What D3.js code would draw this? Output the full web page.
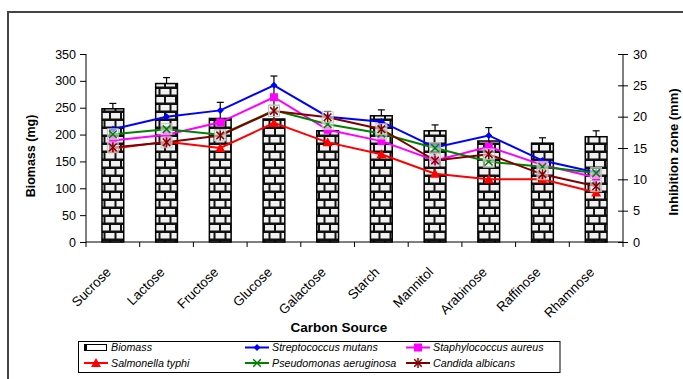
<!DOCTYPE html>
<html><head><meta charset="utf-8">
<script src="https://cdn.jsdelivr.net/npm/d3@7/dist/d3.min.js"></script>
<style>
html,body{margin:0;padding:0;background:#fff;}
svg{display:block;font-family:"Liberation Sans",Arial,sans-serif;}
svg text{font-family:"Liberation Sans",Arial,sans-serif;}
</style></head>
<body>
<svg id="chart" width="683" height="379"></svg>
<script>
const categories = ["Sucrose","Lactose","Fructose","Glucose","Galactose","Starch","Mannitol","Arabinose","Raffinose","Rhamnose"];
const biomass    = [248, 295, 230, 229, 207, 235, 207, 188, 184, 196];
const biomassErr = [10, 11, 30, 80, 36, 11, 11, 25, 10, 11];
const strepMutans   = [18.0, 20.0, 21.0, 25.0, 20.0, 19.2, 15.1, 17.0, 13.0, 11.1];
const staphAureus   = [16.2, 17.1, 19.1, 23.1, 17.9, 16.1, 13.0, 15.2, 12.3, 10.3];
const salmonella    = [14.9, 16.0, 15.0, 19.0, 15.9, 14.0, 10.9, 10.0, 10.0, 7.9];
const pseudomonas   = [17.2, 18.0, 17.1, 21.0, 18.8, 17.3, 15.0, 12.8, 12.0, 11.0];
const candida       = [15.1, 15.9, 17.0, 20.9, 19.9, 18.0, 13.0, 14.0, 10.8, 8.9];
const leftTicks  = [0,50,100,150,200,250,300,350];
const rightTicks = [0,5,10,15,20,25,30];

const series = [
  {name:"Streptococcus mutans", values:strepMutans, color:"#0000ff", marker:"diamond"},
  {name:"Staphylococcus aureus", values:staphAureus, color:"#ff00ff", marker:"square"},
  {name:"Salmonella typhi", values:salmonella, color:"#ff0000", marker:"triangle"},
  {name:"Pseudomonas aeruginosa", values:pseudomonas, color:"#008000", marker:"x"},
  {name:"Candida albicans", values:candida, color:"#800000", marker:"asterisk"}
];

const FONT = "'Liberation Sans', Arial, sans-serif";
const svg = d3.select("#chart");
const L = 86, R = 623, T = 54, B = 242;

// outer frame
svg.append("rect").attr("x",8).attr("y",12).attr("width",720).attr("height",420)
  .attr("fill","none").attr("stroke","#444").attr("stroke-width",2);

// brick pattern
const defs = svg.append("defs");
const pat = defs.append("pattern").attr("id","brick").attr("patternUnits","userSpaceOnUse")
  .attr("width",11).attr("height",16);
pat.append("rect").attr("width",11).attr("height",16).attr("fill","#111");
pat.append("rect").attr("x",1).attr("y",1).attr("width",9).attr("height",5.5).attr("fill","#f0f0f0");
pat.append("rect").attr("x",-4.5).attr("y",9).attr("width",9).attr("height",5.5).attr("fill","#f0f0f0");
pat.append("rect").attr("x",6.5).attr("y",9).attr("width",9).attr("height",5.5).attr("fill","#f0f0f0");

const x = d3.scaleBand().domain(categories).range([L,R]).paddingInner(0).paddingOuter(0);
const yL = d3.scaleLinear().domain([0,350]).range([B,T]);
const yR = d3.scaleLinear().domain([0,30]).range([B,T]);
const cx = c => x(c) + x.bandwidth()/2;
const bw = x.bandwidth()*0.405;

// bars
svg.append("g").selectAll("rect").data(categories).join("rect")
  .attr("x",c=>cx(c)-bw/2).attr("y",(c,i)=>yL(biomass[i]))
  .attr("width",bw).attr("height",(c,i)=>B-yL(biomass[i]))
  .attr("fill","url(#brick)").attr("stroke","#000").attr("stroke-width",1.5);

// bar error bars
const eg = svg.append("g").attr("stroke","#000").attr("stroke-width",1.2);
categories.forEach((c,i)=>{
  const y0 = yL(biomass[i]), y1 = yL(biomass[i]+biomassErr[i]);
  eg.append("line").attr("x1",cx(c)).attr("x2",cx(c)).attr("y1",y0).attr("y2",y1);
  eg.append("line").attr("x1",cx(c)-3.5).attr("x2",cx(c)+3.5).attr("y1",y1).attr("y2",y1);
});

// axes
const gl = svg.append("g").attr("transform",`translate(${L},0)`)
  .call(d3.axisLeft(yL).tickValues(leftTicks).tickSize(6).tickPadding(4));
gl.selectAll("text").attr("font-size","12.5px").attr("fill","#000").attr("font-family",FONT);
gl.select(".domain").attr("d",`M0,${T}V${B}`);

const gr = svg.append("g").attr("transform",`translate(${R},0)`)
  .call(d3.axisRight(yR).tickValues(rightTicks).tickSize(5).tickPadding(5));
gr.selectAll(".tick line").attr("x1",-5);
gr.selectAll("text").attr("font-size","12.8px").attr("fill","#000").attr("font-family",FONT);
gr.select(".domain").attr("d",`M0,${T}V${B}`);

// x axis
const gx = svg.append("g");
gx.append("line").attr("x1",L).attr("x2",R).attr("y1",B).attr("y2",B).attr("stroke","#000");
const bounds = categories.map(c=>x(c)).concat([R]);
gx.selectAll("line.t").data(bounds).join("line").attr("class","t")
  .attr("x1",d=>d).attr("x2",d=>d).attr("y1",B).attr("y2",B+5).attr("stroke","#000");
gx.selectAll("text").data(categories).join("text")
  .attr("transform",c=>`translate(${cx(c)-1},273) rotate(-45)`)
  .attr("text-anchor","end").attr("font-size","13.3px").attr("fill","#000").attr("font-family",FONT).text(c=>c);

// titles
svg.append("text").attr("x",339).attr("y",332).attr("text-anchor","middle").attr("font-family",FONT)
  .attr("font-size","13.5px").attr("font-weight","bold").text("Carbon Source");
svg.append("text").attr("transform","translate(35,156) rotate(-90)").attr("text-anchor","middle").attr("font-family",FONT)
  .attr("font-size","12.5px").attr("font-weight","bold").text("Biomass (mg)");
svg.append("text").attr("transform","translate(678,152) rotate(-90)").attr("text-anchor","middle").attr("font-family",FONT)
  .attr("font-size","13px").attr("font-weight","bold").text("Inhibition zone (mm)");

// markers
function drawMarker(g, type, color, px, py, legend){
  if(type==="diamond"){
    g.append("path").attr("d",`M${px},${py-3.5}L${px+3.5},${py}L${px},${py+3.5}L${px-3.5},${py}Z`).attr("fill",color);
  } else if(type==="square"){
    g.append("rect").attr("x",px-4).attr("y",py-4).attr("width",8).attr("height",8).attr("fill",color);
  } else if(type==="triangle"){
    g.append("path").attr("d",`M${px},${py-5}L${px+5},${py+4}L${px-5},${py+4}Z`).attr("fill",color);
  } else {
    if(!legend){
      g.append("rect").attr("x",px-5.5).attr("y",py-5.5).attr("width",11).attr("height",11)
        .attr("fill","#fff").attr("fill-opacity",0.55).attr("stroke","#bbb").attr("stroke-width",0.8);
    }
    const s = 3.8;
    g.append("path").attr("d",`M${px-s},${py-s}L${px+s},${py+s}M${px-s},${py+s}L${px+s},${py-s}`)
      .attr("stroke",color).attr("stroke-width",1.5).attr("fill","none");
    if(type==="asterisk"){
      g.append("path").attr("d",`M${px},${py-5}V${py+5}`).attr("stroke",color).attr("stroke-width",1.5);
    }
  }
}

// lines
series.forEach(s=>{
  const g = svg.append("g");
  const line = d3.line().x((d,i)=>cx(categories[i])).y(d=>yR(d));
  g.append("path").attr("d",line(s.values)).attr("fill","none").attr("stroke",s.color).attr("stroke-width",2);
  s.values.forEach((v,i)=>drawMarker(g, s.marker, s.color, cx(categories[i]), yR(v), false));
});

// legend
const lg = svg.append("g");
lg.append("rect").attr("x",78.5).attr("y",341.5).attr("width",481.5).attr("height",31)
  .attr("fill","#fff").attr("stroke","#000").attr("stroke-width",1);
const cols = [84, 245, 406];
const rows = [347.5, 363];
const items = [{name:"Biomass", bar:true}].concat(series);
items.forEach((it,k)=>{
  const col = k%3, row = Math.floor(k/3);
  const sx = cols[col], sy = rows[row];
  if(it.bar){
    lg.append("rect").attr("x",sx+0.5).attr("y",sy-3).attr("width",22).attr("height",6)
      .attr("fill","#fff").attr("stroke","#000").attr("stroke-width",1);
    lg.append("rect").attr("x",sx).attr("y",sy-3.5).attr("width",3).attr("height",7).attr("fill","#000");
  } else {
    lg.append("line").attr("x1",sx).attr("x2",sx+24).attr("y1",sy).attr("y2",sy)
      .attr("stroke",it.color).attr("stroke-width",2);
    drawMarker(lg, it.marker, it.color, sx+12, sy, true);
  }
  lg.append("text").attr("x",sx+27).attr("y",sy).attr("dy","0.35em").attr("font-family",FONT)
    .attr("font-size","10.7px").attr("font-style","italic").attr("fill","#000").text(it.name);
});
</script>
</body></html>
